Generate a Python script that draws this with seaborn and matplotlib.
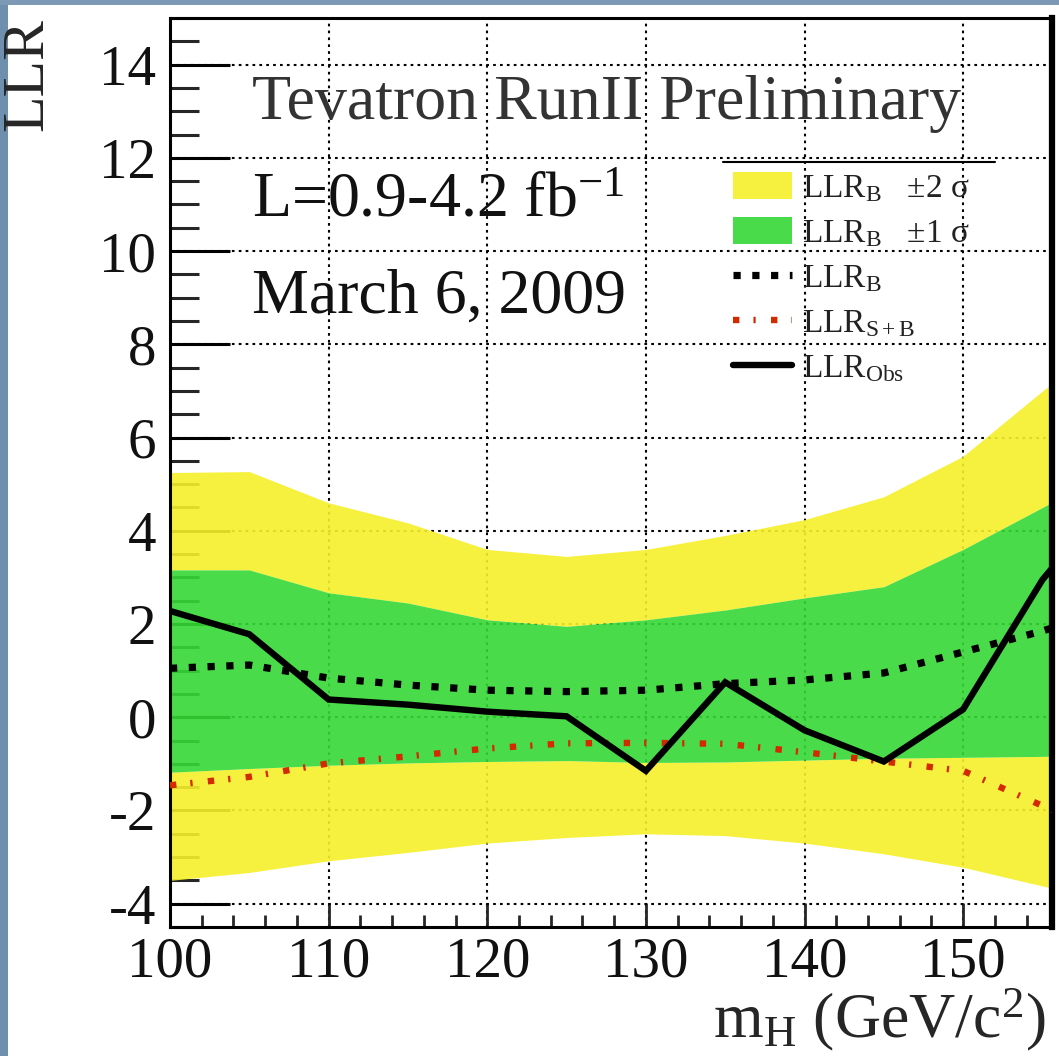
import matplotlib
matplotlib.use("Agg")
import numpy as np
import pandas as pd
import matplotlib.pyplot as plt
import seaborn as sns
from matplotlib.patches import Patch, Rectangle
from matplotlib.lines import Line2D
from matplotlib.ticker import MultipleLocator

# ---- data ----
mass = [100, 105, 110, 115, 120, 125, 130, 135, 140, 145, 150, 155, 160]
llr_obs = [2.28, 1.78, 0.38, 0.27, 0.12, 0.02, -1.15, 0.75, -0.28, -0.95, 0.17, 2.95, 5.0]
llr_b = [1.05, 1.12, 0.84, 0.69, 0.58, 0.55, 0.58, 0.72, 0.80, 0.95, 1.40, 1.85, 2.4]
llr_sb = [-1.46, -1.28, -0.99, -0.84, -0.67, -0.56, -0.55, -0.57, -0.75, -0.95, -1.15, -1.9, -2.6]
b_1s_hi = [3.16, 3.16, 2.67, 2.45, 2.09, 1.95, 2.09, 2.30, 2.56, 2.80, 3.60, 4.50, 5.4]
b_1s_lo = [-1.18, -1.10, -1.03, -0.98, -0.95, -0.93, -0.97, -0.96, -0.92, -0.88, -0.86, -0.84, -0.8]
b_2s_hi = [5.25, 5.27, 4.60, 4.17, 3.60, 3.45, 3.60, 3.90, 4.24, 4.73, 5.60, 7.00, 8.3]
b_2s_lo = [-3.50, -3.33, -3.08, -2.90, -2.70, -2.58, -2.50, -2.54, -2.70, -2.93, -3.22, -3.62, -4.0]

legend_labels = [r"LLR$_{\mathrm{B}}$   ±2 σ", r"LLR$_{\mathrm{B}}$   ±1 σ", r"LLR$_{\mathrm{B}}$",
                 r"LLR$_{\mathrm{S+B}}$", r"LLR$_{\mathrm{Obs}}$"]
text_lines = ["Tevatron RunII Preliminary", r"L=0.9-4.2 fb$^{\mathrm{-1}}$", "March 6, 2009"]

df = pd.DataFrame({"mass": mass, "obs": llr_obs, "b": llr_b, "sb": llr_sb,
                   "h1": b_1s_hi, "l1": b_1s_lo, "h2": b_2s_hi, "l2": b_2s_lo})

sns.set_style("ticks")
plt.rcParams['font.family'] = ['Liberation Serif', 'DejaVu Serif']
plt.rcParams['mathtext.fontset'] = 'custom'
plt.rcParams['mathtext.rm'] = 'Liberation Serif'
plt.rcParams['mathtext.it'] = 'Liberation Serif:italic'
plt.rcParams['mathtext.bf'] = 'Liberation Serif:bold'
plt.rcParams['axes.unicode_minus'] = False

W, H = 1059, 1056
fig = plt.figure(figsize=(W / 100, H / 100), dpi=100)
fig.patch.set_facecolor('white')
ax = fig.add_axes([170 / W, 1 - 927 / H, 882 / W, 909 / H])

yellow = '#f6f02a'
green = '#35d835'
red = '#d42a00'
alpha = 0.9

ax.fill_between(df["mass"], df["h1"], df["h2"], color=yellow, lw=0, alpha=alpha, zorder=1)
ax.fill_between(df["mass"], df["l2"], df["l1"], color=yellow, lw=0, alpha=alpha, zorder=1)
ax.fill_between(df["mass"], df["l1"], df["h1"], color=green, lw=0, alpha=alpha, zorder=1)

sns.lineplot(data=df, x="mass", y="b", ax=ax, color='black', lw=5.2,
             linestyle=(0, (1, 1.6)), sort=False, estimator=None, zorder=3)
sns.lineplot(data=df, x="mass", y="sb", ax=ax, color=red, lw=4.6,
             linestyle=(0, (1.0, 2.2, 0.35, 2.4)), sort=False, estimator=None, zorder=3)
sns.lineplot(data=df, x="mass", y="obs", ax=ax, color='black', lw=4.6,
             sort=False, estimator=None, zorder=4, solid_joinstyle='miter')

ax.set_xlim(100, 155.6)
ax.set_ylim(-4.5, 15.0)
ax.set_xlabel("")
ax.set_ylabel("")

ax.xaxis.set_major_locator(MultipleLocator(10))
ax.xaxis.set_minor_locator(MultipleLocator(2))
ax.yaxis.set_major_locator(MultipleLocator(2))
ax.yaxis.set_minor_locator(MultipleLocator(0.5))

ax.set_axisbelow(True)
ax.grid(True, which='major', color='black', linestyle=(0, (1.3, 2.0)), lw=1.5)

ax.tick_params(axis='y', which='major', direction='in', length=43, width=2.2,
               left=True, right=False, labelsize=41, pad=10, color='black')
ax.tick_params(axis='y', which='minor', direction='in', length=21, width=2.2,
               left=True, right=False)
ax.tick_params(axis='x', which='major', direction='in', length=17, width=2.0,
               bottom=True, top=False, labelsize=41, pad=7)
ax.tick_params(axis='x', which='minor', direction='in', length=8.5, width=2.0,
               bottom=True, top=False)
for lab in ax.get_xticklabels() + ax.get_yticklabels():
    lab.set_color('#111111')

for s in ['left', 'bottom', 'top']:
    ax.spines[s].set_linewidth(2.2)
    ax.spines[s].set_color('black')
ax.spines['right'].set_linewidth(4.5)
ax.spines['right'].set_color('black')

# annotations
ax.text(105.2, 12.84, text_lines[0], fontsize=46, color='#333333', va='baseline', ha='left')
ax.text(105.2, 10.75, text_lines[1], fontsize=46, color='#111111', va='baseline', ha='left')
ax.text(105.2, 8.69, text_lines[2], fontsize=46, color='#111111', va='baseline', ha='left')

# legend
handles = [Patch(facecolor=yellow, edgecolor='none', alpha=alpha),
           Patch(facecolor=green, edgecolor='none', alpha=alpha),
           Line2D([], [], color='black', lw=5.2, linestyle=(0, (1, 1.6))),
           Line2D([], [], color=red, lw=4.6, linestyle=(0, (1.0, 2.2, 0.35, 2.4))),
           Line2D([], [], color='black', lw=4.6)]
leg = ax.legend(handles, legend_labels, loc='upper left', bbox_to_anchor=(0.631, 0.838),
                frameon=False, fontsize=24, handlelength=1.75, handleheight=0.85,
                handletextpad=0.3, labelspacing=0.4, borderaxespad=0, borderpad=0.2)
for t in leg.get_texts():
    t.set_color('#222222')
ax.plot([0.627, 0.935], [0.842, 0.842], transform=ax.transAxes, color='black', lw=1.5,
        zorder=5)

# axis labels placed as in the reference
fig.text(28 / W, 1 - 18 / H, "LLR", rotation=90, fontsize=43, ha='center', va='top')
fig.text(1046 / W, 1 - 1037 / H, r"m$_{\mathrm{H}}$ (GeV/c$^{\mathrm{2}}$)", fontsize=46,
         ha='right', va='baseline')

# photo border strips
fig.patches.append(Rectangle((0, 0), 8 / W, 1, transform=fig.transFigure,
                             facecolor='#6f8fae', edgecolor='none', zorder=-1))
fig.patches.append(Rectangle((0, 1 - 5 / H), 1, 5 / H, transform=fig.transFigure,
                             facecolor='#7c9ab5', edgecolor='none', zorder=-1))

fig.savefig("out.png", dpi=100)
